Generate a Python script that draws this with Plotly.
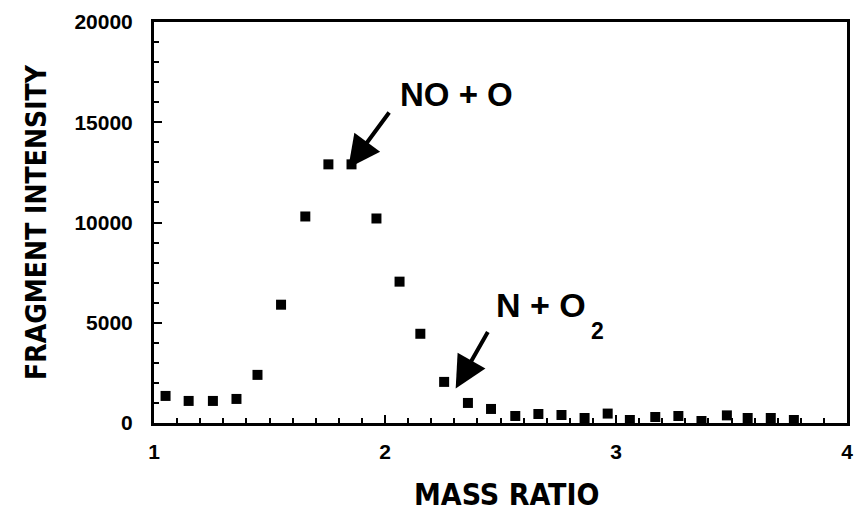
import plotly.graph_objects as go

mass_ratio = [1.05, 1.15, 1.255, 1.357, 1.448, 1.55, 1.655, 1.755, 1.855, 1.963,
              2.063, 2.153, 2.256, 2.359, 2.459, 2.564, 2.664, 2.764, 2.864, 2.964,
              3.06, 3.17, 3.27, 3.37, 3.48, 3.57, 3.67, 3.77]
intensity = [1350, 1100, 1100, 1200, 2400, 5900, 10300, 12900, 12900, 10200,
             7050, 4450, 2050, 1000, 700, 350, 450, 400, 250, 470,
             150, 300, 350, 100, 380, 250, 250, 150]
x_ticks = [1, 2, 3, 4]
y_ticks = [0, 5000, 10000, 15000, 20000]

FONT = "Liberation Sans Narrow, DejaVu Sans Condensed, Liberation Sans, Arial, sans-serif"
TICKFONT = "Liberation Sans, Arial, sans-serif"

fig = go.Figure()
fig.add_trace(go.Scatter(
    x=mass_ratio, y=intensity, mode="markers",
    marker=dict(symbol="square", size=10, color="black"),
    showlegend=False, cliponaxis=False,
))

axis_common = dict(
    showline=True, linecolor="black", linewidth=3, mirror=True,
    showgrid=False, zeroline=False,
    ticks="inside", tickcolor="black", tickwidth=2, ticklen=8,
    tickfont=dict(family=TICKFONT, size=21, color="black", weight="bold"),
)

fig.update_xaxes(
    range=[1, 4], tickvals=x_ticks, ticktext=[str(v) for v in x_ticks],
    minor=dict(dtick=0.1, ticks="inside", ticklen=5, tickwidth=2, tickcolor="black", showgrid=False),
    ticklabelstandoff=8,
    **axis_common,
)
fig.update_yaxes(
    range=[0, 20000], tickvals=y_ticks, ticktext=[str(v) for v in y_ticks],
    minor=dict(dtick=1000, ticks="inside", ticklen=5, tickwidth=2, tickcolor="black", showgrid=False),
    title=dict(text="FRAGMENT INTENSITY", font=dict(family=FONT, size=28, color="black", weight="bold"), standoff=20),
    ticklabelstandoff=14,
    **axis_common,
)

# x-axis title placed as paper annotation to match its offset
fig.add_annotation(xref="paper", yref="paper", x=(510 - 154) / (853 - 154), y=-(495 - 423) / (423 - 20),
                   text="MASS RATIO", showarrow=False, xanchor="center", yanchor="middle",
                   font=dict(family=FONT, size=30, color="black", weight="bold"))

# arrows
fig.add_annotation(x=1.841, y=12720, ax=42, ay=-57, text="", showarrow=True,
                   arrowhead=2, arrowsize=1.6, arrowwidth=4, arrowcolor="black", standoff=0)
fig.add_annotation(x=2.306, y=1722, ax=33, ay=-58, text="", showarrow=True,
                   arrowhead=2, arrowsize=1.6, arrowwidth=4, arrowcolor="black", standoff=0)
# labels
fig.add_annotation(x=2.056, y=16377, text="NO + O", showarrow=False,
                   xanchor="left", yanchor="middle",
                   font=dict(family=TICKFONT, size=33, color="black", weight="bold"))
fig.add_annotation(x=2.472, y=5906, text="N + O", showarrow=False,
                   xanchor="left", yanchor="middle",
                   font=dict(family=TICKFONT, size=34, color="black", weight="bold"))
fig.add_annotation(x=2.92, y=4566, text="2", showarrow=False,
                   xanchor="center", yanchor="middle",
                   font=dict(family=TICKFONT, size=23, color="black", weight="bold"))

fig.update_layout(
    width=863, height=523,
    margin=dict(l=154, r=10, t=20, b=100),
    plot_bgcolor="white", paper_bgcolor="white",
)

fig.write_html("out.html")
